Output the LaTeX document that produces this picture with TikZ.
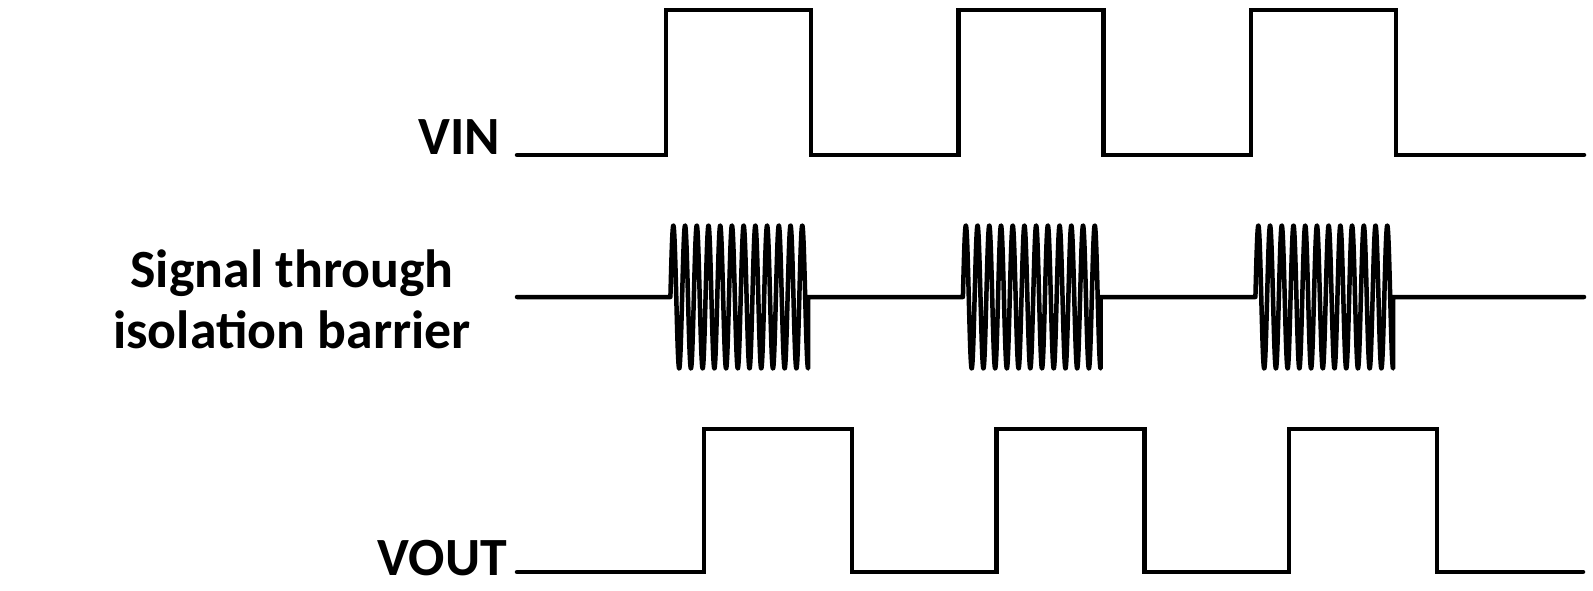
\documentclass[tikz,border=0pt]{standalone}
\usepackage{fontspec}
\setmainfont{Carlito}
\begin{document}
\begin{tikzpicture}[x=1bp,y=-1bp,
  wave/.style={line width=4.5bp, line cap=round, line join=miter, black},
  lbl/.style={inner sep=0pt, font=\fontsize{54}{60}\selectfont\bfseries}]
\useasboundingbox (0,0) rectangle (1593,591);
% labels
\node[lbl, anchor=base east] (vin) at (500,155) {VIN};
\node[lbl, anchor=base] (sig1) at (292,287.5) {Signal through};
\node[lbl, anchor=base] (sig2) at (292,348.5) {isolation barrier};
\node[lbl, anchor=base east] (vout) at (507,575) {VOUT};
% VIN
\draw[wave] (517,155) \foreach \k in {0,1,2} {
  -- ({666+292.5*\k},155) -- ({666+292.5*\k},10) -- ({811+292.5*\k},10) -- ({811+292.5*\k},155)
} -- (1584,155);
% signal through barrier
\draw[wave, line join=round] (517,297) \foreach \k in {0,1,2} {
  -- ({670.4+292.5*\k},297)
  -- plot[domain=0:11.75, samples=600] ({670.4+292.5*\k+\x*11.72},{297-71.5*sin(\x*360)})
  -- ({670.4+292.5*\k+137.7},297)
} -- (1584,297);
% VOUT
\draw[wave] (517,572) \foreach \k in {0,1,2} {
  -- ({704+292.5*\k},572) -- ({704+292.5*\k},429) -- ({852+292.5*\k},429) -- ({852+292.5*\k},572)
} -- (1583,572);
\end{tikzpicture}
\end{document}
